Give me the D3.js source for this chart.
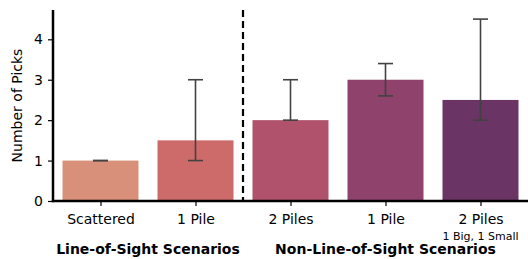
<!DOCTYPE html>
<html lang="en">
    <head>
        <style>
            body { margin: 0; background: #fff; }
            text { font-family: "DejaVu Sans", sans-serif; fill: #000; }
        </style>
        <script src="https://d3js.org/d3.v7.min.js"></script>
        <title>Number of Picks</title>
    </head>
    <body>
        <div id="chart"></div>
        <script>
            var categories = ["Scattered", "1 Pile", "2 Piles", "1 Pile", "2 Piles"];
            var subLabels = ["", "", "", "", "1 Big, 1 Small"];
            var values = [1, 1.5, 2, 3, 2.5];
            var errLow = [1, 1, 2, 2.6, 2];
            var errHigh = [1, 3, 3, 3.4, 4.5];
            var colors = ["#d8907a", "#cd6a6a", "#b0526c", "#8e426c", "#6a3464"];
            var groups = [
                {name: "Line-of-Sight Scenarios", from: 0, to: 1},
                {name: "Non-Line-of-Sight Scenarios", from: 2, to: 4}
            ];
            var yTicks = [0, 1, 2, 3, 4];

            var margin = {top: 10, right: 0, bottom: 58, left: 53},
                width = 528 - margin.left - margin.right,
                height = 259 - margin.top - margin.bottom;

            var svg = d3.select("#chart")
                .append("svg")
                    .attr("width", 528)
                    .attr("height", 259)
                .append("g")
                    .attr("transform", "translate(" + margin.left + "," + margin.top + ")");

            var x = d3.scaleLinear().domain([-0.5, 4.5]).range([0, width]);
            var y = d3.scaleLinear().domain([0, 4.725]).range([height, 0]);
            var bw = x(0.4) - x(-0.4);

            svg.selectAll(".bar")
                .data(values)
                .enter().append("rect")
                    .attr("x", function(d, i) { return x(i) - bw / 2; })
                    .attr("y", function(d) { return y(d); })
                    .attr("width", bw)
                    .attr("height", function(d) { return y(0) - y(d); })
                    .attr("fill", function(d, i) { return colors[i]; });

            // error bars
            var eb = svg.selectAll(".err").data(values).enter().append("g")
                .attr("stroke", "#424242").attr("stroke-width", 1.6);
            eb.append("line")
                .attr("x1", function(d, i) { return x(i); })
                .attr("x2", function(d, i) { return x(i); })
                .attr("y1", function(d, i) { return y(errLow[i]); })
                .attr("y2", function(d, i) { return y(errHigh[i]); });
            [errLow, errHigh].forEach(function(arr) {
                eb.append("line")
                    .attr("x1", function(d, i) { return x(i) - 7.5; })
                    .attr("x2", function(d, i) { return x(i) + 7.5; })
                    .attr("y1", function(d, i) { return y(arr[i]); })
                    .attr("y2", function(d, i) { return y(arr[i]); });
            });

            // separator
            svg.append("line")
                .attr("x1", x(1.5)).attr("x2", x(1.5))
                .attr("y1", 0).attr("y2", height)
                .attr("stroke", "#000").attr("stroke-width", 2.2)
                .attr("stroke-dasharray", "7,4");

            var yAxis = svg.append("g")
                .call(d3.axisLeft(y).tickValues(yTicks).tickFormat(d3.format("d")).tickSize(5).tickPadding(5));
            yAxis.select(".domain").remove();
            yAxis.selectAll("text").attr("font-size", 14).style("font-family", "DejaVu Sans");
            yAxis.selectAll("line").attr("stroke-width", 1.2);

            var xAxis = svg.append("g")
                .attr("transform", "translate(0," + height + ")")
                .call(d3.axisBottom(x).tickValues(d3.range(categories.length))
                    .tickFormat(function(i) { return categories[i]; }).tickSize(5).tickPadding(8));
            xAxis.select(".domain").remove();
            xAxis.selectAll("text").attr("font-size", 14).style("font-family", "DejaVu Sans");
            xAxis.selectAll("line").attr("stroke-width", 1.2);

            // spines
            svg.append("line").attr("x1", 0).attr("x2", 0).attr("y1", 0).attr("y2", height + 1.2)
                .attr("stroke", "#000").attr("stroke-width", 2.5);
            svg.append("line").attr("x1", -1.2).attr("x2", width).attr("y1", height).attr("y2", height)
                .attr("stroke", "#000").attr("stroke-width", 2.5);

            svg.selectAll(".sub")
                .data(subLabels)
                .enter().append("text")
                    .attr("x", function(d, i) { return x(i); })
                    .attr("y", height + 38.5)
                    .attr("text-anchor", "middle")
                    .attr("font-size", 11)
                    .text(function(d) { return d; });

            svg.selectAll(".grp")
                .data(groups)
                .enter().append("text")
                    .attr("x", function(d) { return (x(d.from) + x(d.to)) / 2; })
                    .attr("y", height + 53)
                    .attr("text-anchor", "middle")
                    .attr("font-size", 14)
                    .attr("font-weight", "bold")
                    .text(function(d) { return d.name; });

            svg.append("text")
                .attr("transform", "translate(" + (-31) + "," + (height / 2) + ") rotate(-90)")
                .attr("text-anchor", "middle")
                .attr("font-size", 14)
                .text("Number of Picks");
        </script>
    </body>
</html>
